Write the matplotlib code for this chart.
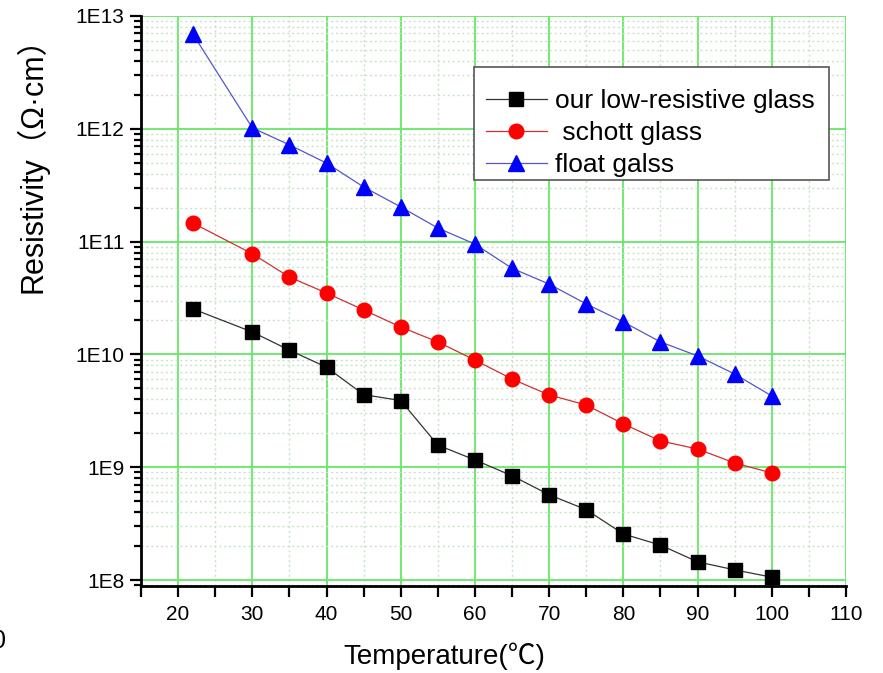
import math
import matplotlib
matplotlib.use("Agg")
import matplotlib.pyplot as plt
from matplotlib.patches import Rectangle
from matplotlib.ticker import FixedLocator, LogLocator, NullFormatter, FuncFormatter

plt.rcParams['font.family'] = ['Liberation Sans', 'Noto Sans CJK SC', 'DejaVu Sans']

# temperature in degC, resistivity in ohm*cm
temp = [22, 30, 35, 40, 45, 50, 55, 60, 65, 70, 75, 80, 85, 90, 95, 100]
low_res = [2.53e10, 1.58e10, 1.09e10, 7.7e9, 4.4e9, 3.9e9, 1.57e9, 1.16e9,
           8.4e8, 5.7e8, 4.2e8, 2.56e8, 2.04e8, 1.45e8, 1.23e8, 1.06e8]
schott = [1.46e11, 7.8e10, 4.85e10, 3.5e10, 2.48e10, 1.75e10, 1.29e10, 8.9e9,
          6.05e9, 4.37e9, 3.56e9, 2.42e9, 1.71e9, 1.45e9, 1.09e9, 8.9e8]
float_glass = [6.9e12, 1.02e12, 7.2e11, 4.97e11, 3.05e11, 2.03e11, 1.32e11, 9.5e10,
               5.8e10, 4.2e10, 2.8e10, 1.94e10, 1.29e10, 9.7e9, 6.7e9, 4.28e9]

W, H = 883, 673
fig = plt.figure(figsize=(W / 100, H / 100), dpi=100)
ax = fig.add_axes([141 / W, 1 - 586 / H, 705 / W, 570 / H])

ax.plot(temp, low_res, color='#333333', lw=0.9, marker='s', ms=9.5,
        mfc='black', mec='black', label='our low-resistive glass', zorder=5)
ax.plot(temp, schott, color='#d03030', lw=0.9, marker='o', ms=10.5,
        mfc='#ff0000', mec='#ff0000', label=' schott glass', zorder=5)
ax.plot(temp, float_glass, color='#5555cc', lw=0.9, marker='^', ms=11.5,
        mfc='#0000ff', mec='#0000ff', label='float galss', zorder=5)

ax.set_yscale('log')
ax.set_xlim(15, 110)
ax.set_ylim(10 ** 7.947, 1e13)

ax.xaxis.set_major_locator(FixedLocator(range(20, 111, 10)))
ax.xaxis.set_minor_locator(FixedLocator(range(15, 111, 10)))
ax.yaxis.set_major_locator(LogLocator(base=10, numticks=20))
ax.yaxis.set_minor_locator(LogLocator(base=10, subs=range(2, 10), numticks=20))
ax.yaxis.set_minor_formatter(NullFormatter())
ax.yaxis.set_major_formatter(FuncFormatter(lambda v, p: '1E%d' % round(math.log10(v))))

ax.tick_params(axis='both', which='major', labelsize=15, width=1.6, length=8, color='black')
ax.tick_params(axis='x', which='minor', width=1.6, length=8)
ax.tick_params(axis='y', which='minor', width=1.6, length=5)
ax.tick_params(axis='x', pad=6)
ax.tick_params(axis='y', pad=4)

ax.grid(which='major', color='#66e866', lw=1.3, zorder=0)
ax.grid(which='minor', color='#c8e4c8', lw=1.0, ls=(0, (1.5, 2)), zorder=0)

for side in ['top', 'right']:
    ax.spines[side].set_visible(False)
for side in ['left', 'bottom']:
    ax.spines[side].set_linewidth(2)

ax.set_xlabel('Temperature(℃)', fontsize=20)
ax.xaxis.set_label_coords(0.43, -0.099)
ax.set_ylabel('Resistivity（Ω·cm）', fontsize=22)
ax.yaxis.set_label_coords(-0.131, 0.751)

# legend box drawn separately so the padding can sit higher at the top
box = Rectangle((474 / W, 1 - 180 / H), 355 / W, 113 / H, transform=fig.transFigure,
                facecolor='white', edgecolor='#555555', lw=1.2, zorder=6, clip_on=False)
ax.add_patch(box)
leg = ax.legend(loc='upper left', bbox_to_anchor=(486 / W, 1 - 89 / H),
                bbox_transform=fig.transFigure, borderaxespad=0, fontsize=19,
                frameon=False, handlelength=2.3, handletextpad=0.3,
                labelspacing=0.3, borderpad=0)
leg.set_zorder(7)

fig.text(-8 / W, 1 - 641 / H, '0', fontsize=18, va='center', ha='left')

fig.savefig('out.png', dpi=100)
